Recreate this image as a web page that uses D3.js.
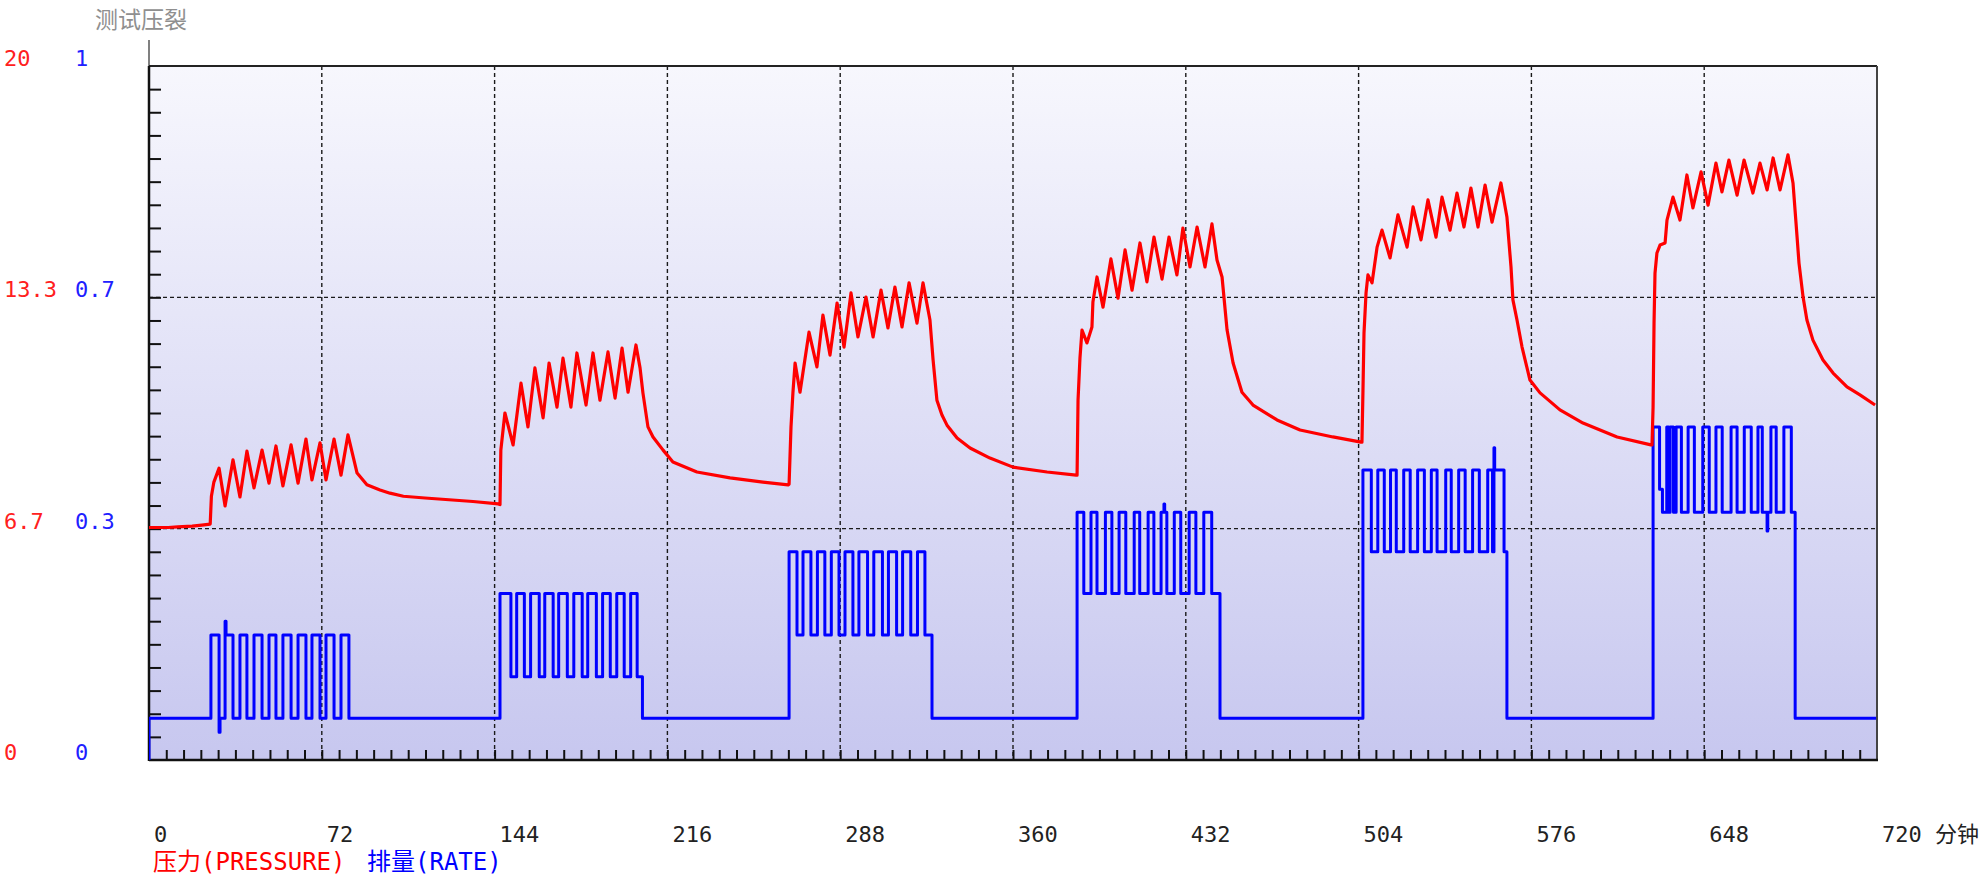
<!DOCTYPE html>
<html>
<head>
<meta charset="utf-8">
<script src="https://cdn.jsdelivr.net/npm/d3@7/dist/d3.min.js"></script>
<style>
  html, body { margin: 0; padding: 0; background: #ffffff; }
  svg { display: block; }
  .mono { font-family: "DejaVu Sans Mono", "Liberation Mono", "Noto Sans CJK SC", monospace; font-size: 22px; }
  .legend { font-family: "DejaVu Sans Mono", "Liberation Mono", "Noto Sans CJK SC", monospace; font-size: 24px; }
</style>
</head>
<body>
<svg id="chart" width="1982" height="880"></svg>
<script>
// Time axis (minutes)
const timeTicks = [0, 72, 144, 216, 288, 360, 432, 504, 576, 648, 720];
const timeUnit = "分钟";

// Left scales: pressure (red) and rate (blue)
const pressureTicks = [0, 20 / 3, 40 / 3, 20];
const pressureTickLabels = ["0", "6.7", "13.3", "20"];
const rateTicks = [0, 1 / 3, 2 / 3, 1];
const rateTickLabels = ["0", "0.3", "0.7", "1"];

const chartTitle = "测试压裂";
const pressureName = "压力(PRESSURE)";
const rateName = "排量(RATE)";

// Pressure trace: [minute, pressure]
const pressurePoints = [
  [0,6.70],[8,6.70],[12,6.72],[18,6.74],[22,6.77],[25.5,6.80],[26,7.6],[27,8.0],
  [29.2,8.41],[31.7,7.32],[35,8.65],[37.9,7.58],[40.8,8.90],[43.75,7.84],[47.1,8.93],[50,7.98],
  [52.9,9.05],[55.8,7.90],[59.2,9.08],[62.1,7.98],[65.4,9.25],[67.9,8.07],[71.25,9.14],[73.75,8.07],
  [77.1,9.25],[80,8.21],[82.9,9.37],[86.7,8.27],[90.8,7.93],[96.25,7.78],[100.4,7.69],[106,7.60],
  [115,7.55],[125,7.50],[135,7.45],[145.5,7.38],
  [146.25,7.36],[146.6,8.93],[148.3,10.0],[151.7,9.08],[155,10.86],[157.9,9.6],[160.8,11.3],[164.2,9.86],
  [166.7,11.44],[170,10.17],[172.5,11.58],[175.8,10.17],[178.3,11.73],[182.1,10.23],[185,11.73],[187.9,10.37],
  [191.25,11.76],[194.2,10.43],[197.1,11.87],[199.6,10.6],[202.9,11.96],[204.6,11.3],[205.8,10.58],[207.9,9.6],
  [210,9.31],[214.2,8.93],[218.3,8.59],[228.3,8.3],[242.1,8.13],[255.8,8.01],[266.3,7.93],
  [266.7,7.95],[267.5,9.6],[268.3,10.58],[269.2,11.44],[271.25,10.6],[275,12.33],[278.3,11.33],[280.8,12.82],
  [283.75,11.67],[286.7,13.17],[289.6,11.9],[292.5,13.46],[295.4,12.19],[298.75,13.34],[301.7,12.19],[305,13.54],
  [307.9,12.45],[310.8,13.63],[313.75,12.48],[316.7,13.75],[320,12.59],[322.5,13.75],[325.4,12.68],[326.7,11.53],
  [328.3,10.37],[330.4,9.94],[332.5,9.65],[336.7,9.28],[342.1,8.99],[350.4,8.7],[360,8.44],[374.2,8.3],[386.3,8.21],
  [386.7,8.21],[387.1,10.37],[387.9,11.58],[388.75,12.39],[390.8,12.02],[392.9,12.48],[393.3,13.2],[395,13.92],
  [397.5,13.05],[400.8,14.44],[403.75,13.31],[406.7,14.7],[409.6,13.54],[412.9,14.9],[415.8,13.78],[418.75,15.07],
  [422.1,13.86],[425,15.07],[428.3,13.98],[430.8,15.33],[433.75,14.21],[436.7,15.36],[440,14.21],[442.9,15.45],
  [445,14.41],[447.1,13.92],[449.2,12.39],[451.7,11.44],[455.4,10.6],[460,10.23],[470,9.8],[479.6,9.51],
  [493.3,9.31],[505,9.16],
  [505.4,9.16],[505.8,10.58],[506.25,12.3],[507.1,13.46],[507.9,13.98],[509.6,13.75],[511.7,14.78],[513.75,15.27],
  [517.1,14.47],[520.4,15.71],[524.2,14.78],[526.7,15.94],[530,14.99],[532.9,16.14],[536.25,15.07],[538.75,16.22],
  [542.1,15.27],[545,16.34],[547.9,15.36],[550.8,16.48],[553.75,15.36],[556.7,16.57],[559.6,15.5],[563.3,16.63],
  [565.8,15.65],[567.5,14.21],[568.3,13.26],[570,12.68],[572.1,11.9],[575.4,10.95],[579.6,10.58],[587.9,10.09],
  [597.5,9.71],[611.7,9.31],[625.8,9.08],
  [626.25,9.08],[626.7,10.17],[627.1,12.59],[627.5,14.03],[628.3,14.61],[629.6,14.84],[631.7,14.9],[632.5,15.56],
  [635,16.22],[637.9,15.56],[640.8,16.86],[643.3,15.91],[646.7,16.95],[649.6,15.99],[652.9,17.2],[655.4,16.37],
  [658.3,17.29],[661.7,16.28],[664.6,17.29],[668.3,16.34],[671.25,17.2],[674.2,16.43],[676.7,17.35],[679.6,16.43],
  [682.9,17.44],[685,16.63],[686.7,15.07],[687.5,14.32],[689.2,13.34],[690.8,12.68],[693.3,12.1],[697.5,11.53],
  [701.7,11.15],[707.5,10.75],[712.9,10.52],[719.2,10.23]
];

// Pump rate: [minute, rate] change points, held until the next point
const ratePoints = [
  [0,0],[0,0.06],
  [25.8,0.18],[29.2,0.04],[29.6,0.06],[31.7,0.2],[32.1,0.18],[35,0.06],[37.9,0.18],[40.8,0.06],
  [43.75,0.18],[47.1,0.06],[50,0.18],[52.9,0.06],[55.8,0.18],[59.2,0.06],[62.1,0.18],[65.4,0.06],
  [67.9,0.18],[71.25,0.06],[73.75,0.18],[77.1,0.06],[80,0.18],[83.3,0.06],
  [146.25,0.24],[150.8,0.12],[153.2,0.24],[156.4,0.12],[159,0.24],[162.6,0.12],[164.9,0.24],[168.4,0.12],
  [170.7,0.24],[174.3,0.12],[177,0.24],[180.5,0.12],[182.8,0.24],[186.4,0.12],[189,0.24],[192.2,0.12],
  [194.9,0.24],[198,0.12],[200.7,0.24],[203.4,0.12],[205.6,0.06],
  [266.7,0.30],[270,0.18],[272.5,0.30],[275.8,0.18],[278.5,0.30],[281.6,0.18],[284.3,0.30],[287.5,0.18],
  [290,0.30],[293.3,0.18],[295.8,0.30],[299.4,0.18],[302,0.30],[305.6,0.18],[308.1,0.30],[311.5,0.18],
  [314,0.30],[317.4,0.18],[320.2,0.30],[323.3,0.18],[326.25,0.06],
  [386.7,0.357],[389.5,0.24],[392.5,0.357],[395,0.24],[398.5,0.357],[401.2,0.24],[404.2,0.357],[407,0.24],
  [410.5,0.357],[412.8,0.24],[416.3,0.357],[418.7,0.24],[421.7,0.357],[422.9,0.369],[423.2,0.357],[424.1,0.24],
  [427.2,0.357],[429.9,0.24],[433.4,0.357],[436.2,0.24],[439.5,0.357],[442.8,0.24],[446.25,0.06],
  [505.8,0.418],[509.3,0.30],[512,0.418],[514.7,0.30],[517.3,0.418],[519.7,0.30],[522.8,0.418],[525.5,0.30],
  [528.6,0.418],[531.4,0.30],[534.3,0.418],[536.7,0.30],[540.3,0.418],[542.6,0.30],[545.7,0.418],[548.4,0.30],
  [551.5,0.418],[554.3,0.30],[557.8,0.418],[559.8,0.30],[560.4,0.45],[560.7,0.418],[564.6,0.30],[565.8,0.06],
  [626.7,0.48],[629.4,0.39],[630.6,0.357],[632.4,0.48],[633.2,0.357],[633.8,0.48],[635.2,0.357],[636.3,0.48],
  [638.5,0.357],[641.3,0.48],[643.9,0.357],[647.4,0.48],[650.1,0.357],[652.9,0.48],[655.5,0.357],[659.2,0.48],
  [661.7,0.357],[664.7,0.48],[667.6,0.357],[670.4,0.48],[672.2,0.357],[674.2,0.33],[674.5,0.357],[675.8,0.48],
  [678,0.357],[681.2,0.48],[684.3,0.357],[685.9,0.06],[719,0.06]
];

const svg = d3.select("#chart");
const plotLeft = 149, plotRight = 1877, plotTop = 66, plotBottom = 760;

const x = d3.scaleLinear().domain([0, 720]).range([plotLeft, plotRight]);
const yP = d3.scaleLinear().domain([0, 20]).range([plotBottom, plotTop]);
const yR = d3.scaleLinear().domain([0, 1]).range([plotBottom, plotTop]);

// Plot background
const defs = svg.append("defs");
const grad = defs.append("linearGradient").attr("id", "bg").attr("x1", 0).attr("y1", 0).attr("x2", 0).attr("y2", 1);
grad.append("stop").attr("offset", "0%").attr("stop-color", "#f7f7fd");
grad.append("stop").attr("offset", "100%").attr("stop-color", "#c7c7ef");
defs.append("clipPath").attr("id", "plotClip").append("rect")
  .attr("x", plotLeft).attr("y", plotTop - 2).attr("width", plotRight - plotLeft).attr("height", plotBottom - plotTop + 2);

svg.append("rect").attr("x", plotLeft).attr("y", plotTop).attr("width", plotRight - plotLeft).attr("height", plotBottom - plotTop)
  .attr("fill", "url(#bg)");

// Dashed grid
const grid = svg.append("g").attr("stroke", "#1a1a1a").attr("stroke-width", 1.4).attr("stroke-dasharray", "4,3");
grid.selectAll("line.v").data(timeTicks.slice(1, -1)).join("line").attr("class", "v")
  .attr("x1", d => x(d)).attr("x2", d => x(d)).attr("y1", plotTop).attr("y2", plotBottom);
grid.selectAll("line.h").data(pressureTicks.slice(1, -1)).join("line").attr("class", "h")
  .attr("x1", plotLeft).attr("x2", plotRight).attr("y1", d => yP(d)).attr("y2", d => yP(d));

// Minor ticks on the left (inside) and bottom (inside)
const leftMinor = d3.range(1, 30).map(i => i * 20 / 30);
svg.append("g").attr("transform", `translate(${plotLeft},0)`)
  .call(d3.axisRight(yP).tickValues(leftMinor).tickSize(12).tickFormat(""))
  .call(g => g.select(".domain").remove())
  .call(g => g.selectAll("line").attr("stroke", "#111").attr("stroke-width", 2));

const bottomMinor = d3.range(1, 100).map(i => i * 7.2);
svg.append("g").attr("transform", `translate(0,${plotBottom})`)
  .call(d3.axisTop(x).tickValues(bottomMinor).tickSize(10).tickFormat(""))
  .call(g => g.select(".domain").remove())
  .call(g => g.selectAll("line").attr("stroke", "#111").attr("stroke-width", 2));

// Frame
svg.append("line").attr("x1", plotLeft).attr("x2", plotLeft).attr("y1", 40).attr("y2", plotTop)
  .attr("stroke", "#808080").attr("stroke-width", 2);
svg.append("line").attr("x1", plotLeft).attr("x2", plotRight).attr("y1", plotTop).attr("y2", plotTop)
  .attr("stroke", "#222").attr("stroke-width", 2);
svg.append("line").attr("x1", plotRight).attr("x2", plotRight).attr("y1", plotTop).attr("y2", plotBottom)
  .attr("stroke", "#444").attr("stroke-width", 2);
svg.append("line").attr("x1", plotLeft).attr("x2", plotLeft).attr("y1", plotTop).attr("y2", plotBottom + 1)
  .attr("stroke", "#111").attr("stroke-width", 2.5);
svg.append("line").attr("x1", plotLeft).attr("x2", plotRight + 1).attr("y1", plotBottom).attr("y2", plotBottom)
  .attr("stroke", "#111").attr("stroke-width", 2.5);

// Series
const plot = svg.append("g").attr("clip-path", "url(#plotClip)");
const rateLine = d3.line().x(d => x(d[0])).y(d => yR(d[1])).curve(d3.curveStepAfter);
plot.append("path").datum(ratePoints).attr("d", rateLine)
  .attr("fill", "none").attr("stroke", "#0000ff").attr("stroke-width", 3)
  .attr("stroke-linejoin", "round").attr("stroke-linecap", "square");

const pressureLine = d3.line().x(d => x(d[0])).y(d => yP(d[1]));
plot.append("path").datum(pressurePoints).attr("d", pressureLine)
  .attr("fill", "none").attr("stroke", "#ff0000").attr("stroke-width", 3.2)
  .attr("stroke-linejoin", "round");

// Left labels
svg.append("g").selectAll("text").data(pressureTicks).join("text")
  .attr("class", "mono").attr("x", 4).attr("y", d => yP(d))
  .attr("fill", "#ff2020").text((d, i) => pressureTickLabels[i]);
svg.append("g").selectAll("text").data(rateTicks).join("text")
  .attr("class", "mono").attr("x", 75).attr("y", d => yR(d))
  .attr("fill", "#2020ff").text((d, i) => rateTickLabels[i]);

// Bottom labels
svg.append("g").selectAll("text").data(timeTicks).join("text")
  .attr("class", "mono").attr("x", d => x(d) + 5).attr("y", 842)
  .attr("fill", "#222").text(d => d === 720 ? `${d} ${timeUnit}` : `${d}`);

// Title
svg.append("text").attr("x", 95).attr("y", 28)
  .attr("font-family", "'Noto Sans CJK SC', sans-serif").attr("font-size", 23)
  .attr("fill", "#8f8f8f").text(chartTitle);

// Legend
svg.append("text").attr("class", "legend").attr("x", 153).attr("y", 870)
  .attr("fill", "#ff0000").text(pressureName);
svg.append("text").attr("class", "legend").attr("x", 367).attr("y", 870)
  .attr("fill", "#0000ff").text(rateName);
</script>
</body>
</html>
